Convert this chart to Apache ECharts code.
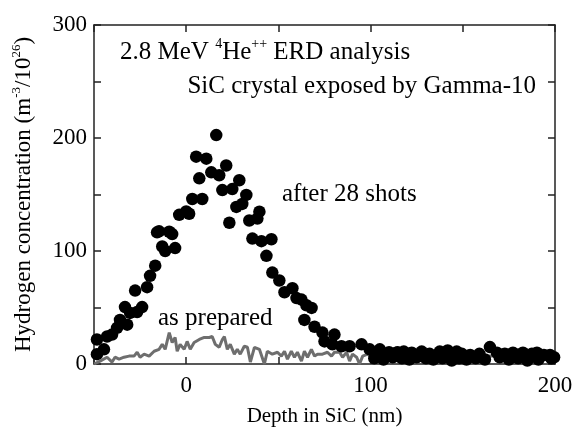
<!DOCTYPE html>
<html><head><meta charset="utf-8">
<script src="https://cdn.jsdelivr.net/npm/echarts@6/dist/echarts.min.js"></script>
<style>html,body{margin:0;padding:0;background:#fff}#c{width:576px;height:432px}</style>
</head><body><div id="c"></div>
<script>
// "after 28 shots" ERD data (depth nm, concentration)
const shotsX = [-48.4,-48.4,-44.6,-42.9,-40.2,-37.5,-35.9,-33.2,-32,-30.4,-27.7,-26.6,-23.9,-21.2,-19.6,-16.8,-15.8,-14.7,-13,-11.4,-9.2,-7.6,-6,-3.8,0,1.6,3.3,5.4,7.1,8.7,10.9,13.6,16.3,17.9,19.6,21.7,23.4,25,27.2,28.8,30.4,32.6,34.2,35.9,38.6,39.7,40.8,43.5,46.2,46.7,50.5,53.3,57.6,59.8,62.5,64.1,65.2,68,69.6,73.9,75,79.3,80.4,84.2,88.6,95.1,99.5,105,110,114.7,
  114,118,122.3,127.7,132,137.5,141.8,146.7,149.5,154,159,164.7,168.5,172.8,177.2,182.6,187.5,190.2,194,197.3,
  102,107,112,117,121,125,130,134,139,144,148,152,157,162,170,175,180,185,191,198,199.5];
const shotsY = [8.7,21.7,13,24.3,26,32,39,50.4,34.8,45.2,65,46,50.4,68,78,87,116.5,117.4,104,100,117,115,102.6,132,135,133,146,183.5,164.3,146,181.7,169.6,202.6,167,153.9,175.7,125,154.8,139,162.6,141.7,149.6,127,111,128.7,134.8,108.7,95.7,110.4,80.9,73.9,63.5,67,58.3,57,39,52,49.6,33,27.8,20,17.4,26,15.7,15.7,17.4,13,13,10.4,10.4,
  10,11,10,11,9,11,12,11,9,8,9,15,10,9,10,10,9,10,8,8,
  5,4,6,5,4,6,5,4,5,3,5,4,5,4,6,4,5,3,4,5,6];
// "as prepared" data
const prepX = [-50,-46.7,-42.9,-40.2,-38.6,-36.4,-33.7,-31,-28.3,-26.6,-25,-22.8,-20.1,-17.4,-14.7,-13,-11.4,-9.2,-7.6,-6,-4.9,-3.3,-1.1,0.5,2.2,4.3,7.1,9.8,12.5,14.1,15.8,17.9,19.6,20.7,22.3,23.9,26.1,27.7,29.3,31.5,33.2,34.8,37,39.7,42.4,44,46.7,49.5,51.6,53.3,54.9,57,58.7,60.3,62.5,64.1,65.8,67.9,69.6,71.2,73.9,76.6,78.8,80.4,83.2,84.8,87,88.6,90.2,92.4,94,95.7,98.4,100.5,102.2,103.8,106,107.6,109.2,111.4,113,115.8,117.4,120.1,122.8,125.5,127.7,129.3,131,133.7,136.4,139.1,141.8,144.6,147.3,149.5,152.2,155.4,158.2,160.9,163.6,166.3,169,171.7,174.5,177.2,179.9,182.1,183.7,186.4,189.1,191.8,194.6,197.3,198.9,200];
const prepY = [0,2.6,6,1.7,6,4.3,6,7,7,10.4,6,8.7,7,11.3,13,17.4,13,27.8,19,23.5,11.3,17.4,13,20,13,19,21.7,23.5,23.5,24.3,17.4,14.8,21.7,24.3,13,17.4,8.7,13,8.7,15.7,14.8,1.7,14.8,13,0,11.3,8.7,10.4,7,11.3,4.3,11.3,6,10.4,2.6,11.3,6,13,7,8.7,8.7,10.4,7,10.4,10.4,6,10.4,2.6,8.7,6,0,7,8.7,6,11.3,7,10.4,6,11.3,2.6,8.7,6,11.3,4.3,8.7,6,11.3,2.6,10.4,7,8.7,6,8.7,7,10.4,10.4,7,6,4.3,6,7,7,8.7,7,7,6,7,13,6,7,7,6,7,2.6,8.7,4];
const xTickLabels = {"0":"0","100":"100","200":"200"};
const yTickLabels = {"0":"0","100":"100","200":"200","300":"300"};

const font = 'Liberation Serif';
const chart = echarts.init(document.getElementById('c'), null, {renderer:'canvas'});
const axisCommon = {
  axisLine:{show:true,onZero:false,lineStyle:{color:'#222',width:1.5}},
  axisTick:{show:true,inside:true,length:7,lineStyle:{color:'#222',width:1.5}},
  splitLine:{show:false}
};
const sup = {fontSize:14, verticalAlign:'top', lineHeight:30, fontFamily:font, color:'#000'};
chart.setOption({
  animation:false,
  backgroundColor:'#fff',
  grid:{left:94,right:21,top:25,bottom:62,containLabel:false},
  xAxis:[
    Object.assign({type:'value',min:-50,max:200,interval:50,position:'bottom',
      name:'Depth in SiC (nm)',nameLocation:'middle',nameGap:42,
      nameTextStyle:{fontFamily:font,fontSize:21,color:'#000'},
      axisLabel:{fontFamily:font,fontSize:23,color:'#000',margin:10,
        formatter:v=>xTickLabels[String(v)]||''}},axisCommon),
    Object.assign({type:'value',min:-50,max:200,interval:50,position:'top',axisLabel:{show:false}},axisCommon)
  ],
  yAxis:[
    Object.assign({type:'value',min:0,max:300,interval:50,position:'left',
      name:'Hydrogen concentration (m{s|-3}/10{s|26})',nameLocation:'middle',nameGap:57,nameRotate:90,
      nameTextStyle:{fontFamily:font,fontSize:23,color:'#000',lineHeight:27,
        rich:{s:{fontSize:13,verticalAlign:'top',lineHeight:27,fontFamily:font,color:'#000'}}},
      axisLabel:{fontFamily:font,fontSize:23,color:'#000',margin:7,
        formatter:v=>yTickLabels[String(v)]||''}},axisCommon),
    Object.assign({type:'value',min:0,max:300,interval:50,position:'right',axisLabel:{show:false}},axisCommon)
  ],
  series:[
    {type:'line',data:prepX.map((x,i)=>[x,prepY[i]]),showSymbol:false,symbol:'none',
      lineStyle:{color:'#6e6e6e',width:3},z:3,clip:true},
    {type:'scatter',data:shotsX.map((x,i)=>[x,shotsY[i]]),symbol:'circle',symbolSize:12.5,
      itemStyle:{color:'#000',opacity:1},z:4,clip:true}
  ],
  graphic:[
    {type:'text',left:120,top:37,style:{text:'2.8 MeV {s|4}He{s|++} ERD analysis',
      font:'25px '+font,fill:'#000',lineHeight:30,rich:{s:sup}}},
    {type:'text',right:40,top:74,style:{text:'SiC crystal exposed by Gamma-10',font:'25px '+font,fill:'#000'}},
    {type:'text',left:282,top:182,style:{text:'after 28 shots',font:'25px '+font,fill:'#000'}},
    {type:'text',left:158,top:306,style:{text:'as prepared',font:'25px '+font,fill:'#000'}}
  ]
});
</script></body></html>
